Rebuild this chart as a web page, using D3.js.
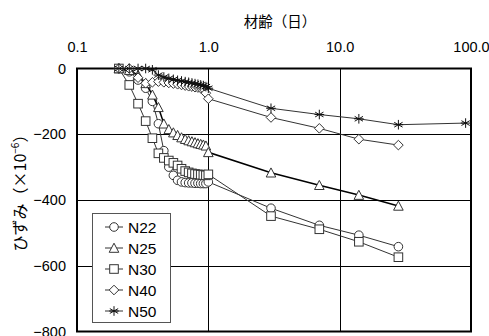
<!DOCTYPE html>
<html>
<head>
<meta charset="utf-8">
<script src="https://cdn.jsdelivr.net/npm/d3@7"></script>
<style>
  body { margin: 0; background: #fff; }
  svg { display: block; font-family: "Liberation Sans", Arial, sans-serif; }
</style>
</head>
<body>
<div id="chart"></div>
<script>
// early readings every hour (hours after mixing), then later ages in days
const earlyHours = [5, 6, 7, 8, 9, 10, 11, 12, 13, 14, 15, 16, 17, 18, 19, 20, 21, 22, 23, 24];
const lateDays = [3, 7, 14, 28, 91];

const N22 = [0, -10, -35, -60, -100, -168, -250, -300, -325, -340, -345, -347, -348, -348, -349, -349, -350, -350, -350, -345,
             -425, -477, -507, -542, null];
const N25 = [0, -5, -20, -45, -80, -118, -168, -185, -195, -203, -210, -215, -219, -222, -225, -228, -230, -232, -235, -255,
             -317, -355, -385, -418, null];
const N30 = [0, -50, -107, -160, -212, -258, -272, -280, -287, -295, -305, -312, -316, -319, -321, -322, -323, -324, -325, -322,
             -449, -489, -527, -574, null];
const N40 = [0, 0, -28, -45, -42, -40, -42, -44, -46, -48, -50, -52, -54, -55, -57, -58, -60, -62, -75, -92,
             -149, -182, -215, -233, null];
const N50 = [0, 0, 0, 0, -4, -20, -26, -30, -33, -36, -38, -40, -42, -44, -46, -48, -50, -52, -55, -60,
             -121, -140, -153, -171, -166];

const seriesNames = ["N22", "N25", "N30", "N40", "N50"];
const seriesValues = [N22, N25, N30, N40, N50];
const seriesSymbols = ["circle", "triangle", "square", "diamond", "asterisk"];

const xTicks = [0.1, 1, 10, 100];
const yTicks = [0, -200, -400, -600, -800];

const ages = earlyHours.map(h => h / 24).concat(lateDays);

const W = 489, H = 336;
const svg = d3.select("#chart").append("svg")
  .attr("width", W).attr("height", H);

const x = d3.scaleLog().domain([0.1, 100]).range([77, 471]);
const y = d3.scaleLinear().domain([0, -800]).range([68.5, 331.5]);

// grid
svg.append("g").selectAll("line.v")
  .data([1, 10]).enter().append("line")
  .attr("x1", d => Math.round(x(d)) + 0.5).attr("x2", d => Math.round(x(d)) + 0.5)
  .attr("y1", y(0)).attr("y2", y(-800))
  .attr("stroke", "#000").attr("stroke-width", 1);
svg.append("g").selectAll("line.h")
  .data([-200, -400, -600]).enter().append("line")
  .attr("y1", d => Math.round(y(d)) + 0.5).attr("y2", d => Math.round(y(d)) + 0.5)
  .attr("x1", x(0.1)).attr("x2", x(100))
  .attr("stroke", "#000").attr("stroke-width", 1);

// frame
svg.append("rect")
  .attr("x", x(0.1)).attr("y", y(0))
  .attr("width", x(100) - x(0.1)).attr("height", y(-800) - y(0))
  .attr("fill", "none").attr("stroke", "#000").attr("stroke-width", 2);

// axes (labels only)
const fmtX = d => d3.format(".1f")(d);
const xAxis = svg.append("g")
  .attr("transform", "translate(0,52)")
  .call(d3.axisTop(x).tickValues(xTicks).tickFormat(fmtX).tickSize(0).tickPadding(0));
xAxis.select(".domain").remove();
xAxis.selectAll("text").attr("font-size", 14.5).attr("fill", "#000")
  .attr("font-family", "'Liberation Sans', Arial, sans-serif");

const yAxis = svg.append("g")
  .attr("transform", "translate(66,0)")
  .call(d3.axisLeft(y).tickValues(yTicks).tickFormat(d => d3.format("")(d).replace("-", "\u2212")).tickSize(0).tickPadding(0));
yAxis.select(".domain").remove();
yAxis.selectAll("text").attr("font-size", 14.5).attr("fill", "#000")
  .attr("font-family", "'Liberation Sans', Arial, sans-serif");

// axis titles
svg.append("text")
  .attr("x", 280).attr("y", 27)
  .attr("text-anchor", "middle")
  .attr("font-size", 14.5)
  .attr("font-family", "'Noto Sans CJK JP', sans-serif")
  .text("材齢（日）");

const yt = svg.append("text")
  .attr("transform", "translate(26,189) rotate(-90)")
  .attr("text-anchor", "middle")
  .attr("font-size", 16)
  .attr("font-family", "'Noto Sans CJK JP', sans-serif");
yt.append("tspan").text("ひずみ（×10");
yt.append("tspan").attr("dy", -7).attr("font-size", 10).text("−6");
yt.append("tspan").attr("dy", 7).text("）");

// symbol drawing
function drawSymbol(g, type, cx, cy) {
  const s = 4.3;
  const st = { stroke: "#333", "stroke-width": 1, fill: "#fff" };
  let el;
  if (type === "circle") {
    el = g.append("circle").attr("cx", cx).attr("cy", cy).attr("r", s);
  } else if (type === "square") {
    el = g.append("rect").attr("x", cx - s).attr("y", cy - s).attr("width", 2 * s).attr("height", 2 * s);
  } else if (type === "triangle") {
    el = g.append("path").attr("d", `M${cx},${cy - s - 0.5}L${cx + s + 0.5},${cy + s}L${cx - s - 0.5},${cy + s}Z`);
  } else if (type === "diamond") {
    el = g.append("path").attr("d", `M${cx},${cy - s - 0.5}L${cx + s + 0.5},${cy}L${cx},${cy + s + 0.5}L${cx - s - 0.5},${cy}Z`);
  } else {
    const r = s + 0.5;
    const d = [0, 60, 120].map(a => {
      const rad = a * Math.PI / 180;
      const dx = r * Math.sin(rad), dy = r * Math.cos(rad);
      return `M${cx - dx},${cy - dy}L${cx + dx},${cy + dy}`;
    }).join("") + `M${cx - r},${cy}L${cx + r},${cy}`;
    el = g.append("path").attr("d", d);
    st.fill = "none"; st.stroke = "#111";
  }
  Object.entries(st).forEach(([k, v]) => el.attr(k, v));
}

const line = d3.line()
  .defined(d => d.v !== null)
  .x(d => x(d.t))
  .y(d => y(d.v));

seriesNames.forEach((name, i) => {
  const pts = ages.map((t, j) => ({ t: t, v: seriesValues[i][j] }));
  const g = svg.append("g").attr("class", name);
  g.append("path")
    .attr("d", line(pts))
    .attr("fill", "none")
    .attr("stroke", name === "N25" ? "#000" : "#333")
    .attr("stroke-width", name === "N25" ? 1.5 : 1);
  pts.filter(d => d.v !== null).forEach(d => drawSymbol(g, seriesSymbols[i], x(d.t), y(d.v)));
});

// legend
const lg = svg.append("g");
lg.append("rect")
  .attr("x", 92.5).attr("y", 213.5).attr("width", 78).attr("height", 109)
  .attr("fill", "#fff").attr("stroke", "#555").attr("stroke-width", 1);
seriesNames.forEach((name, i) => {
  const cy = 227 + i * 21;
  lg.append("line").attr("x1", 105).attr("x2", 123).attr("y1", cy).attr("y2", cy)
    .attr("stroke", "#333").attr("stroke-width", 1);
  drawSymbol(lg, seriesSymbols[i], 114, cy);
  lg.append("text").attr("x", 128).attr("y", cy + 5.5)
    .attr("font-size", 15.5).text(name);
});
</script>
</body>
</html>
